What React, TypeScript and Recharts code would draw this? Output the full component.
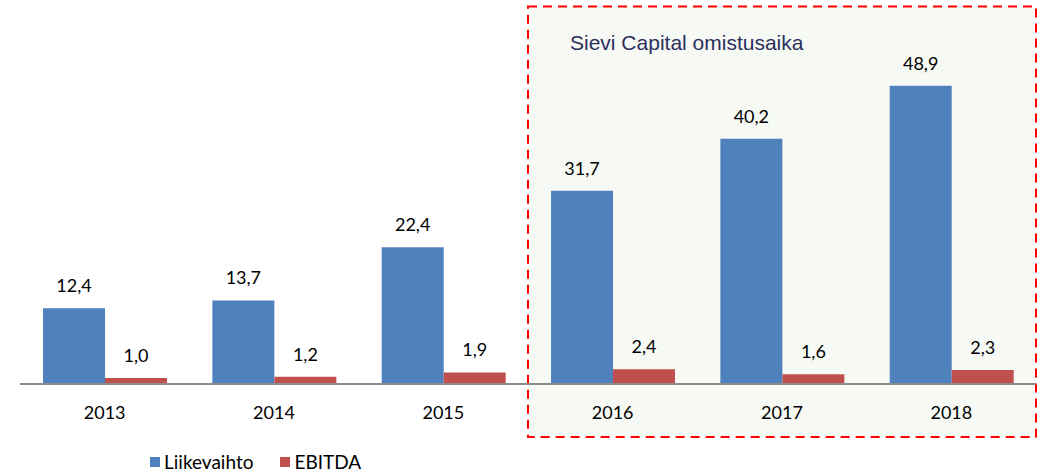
import React from 'react'
import { BarChart, Bar, XAxis, YAxis, Legend, LabelList, ReferenceArea, Label } from 'recharts'

const years = ['2013', '2014', '2015', '2016', '2017', '2018']
const liikevaihto = [12.4, 13.7, 22.4, 31.7, 40.2, 48.9]
const ebitda = [1.0, 1.2, 1.9, 2.4, 1.6, 2.3]

const data = years.map((year, i) => ({ year, liikevaihto: liikevaihto[i], ebitda: ebitda[i] }))

const BLUE = '#4f81bd'
const RED = '#c0504d'
const FONT = 'Lato, "Open Sans", sans-serif'

const fmt = (v: any) => Number(v).toFixed(1).replace('.', ',')

function LegendBox() {
  const items = [
    { name: 'Liikevaihto', color: BLUE },
    { name: 'EBITDA', color: RED }
  ]
  return (
    <div style={{ display: 'flex', alignItems: 'center', fontFamily: FONT, fontSize: 19, color: '#000' }}>
      {items.map((it) => (
        <div key={it.name} style={{ display: 'flex', alignItems: 'center', marginRight: 27 }}>
          <span style={{ width: 10, height: 10, background: it.color, display: 'inline-block', marginRight: 4 }} />
          <span>{it.name}</span>
        </div>
      ))}
    </div>
  )
}

export default function App() {
  return (
    <div style={{ position: 'absolute', left: 0, top: 0, width: 1045, height: 472, background: '#fff' }}>
      <BarChart
        width={1045}
        height={472}
        data={data}
        barGap={0}
        barCategoryGap="13.6%"
        margin={{ top: 79, right: 9, left: 20, bottom: 0 }}>
        <ReferenceArea
          x1="2016"
          x2="2018"
          y1={-8.7}
          y2={61.9}
          ifOverflow="visible"
          fill="#f7f9f4"
          fillOpacity={1}
          stroke="#ff0000"
          strokeWidth={2}
          strokeDasharray="9 6">
          <Label
            content={(props: any) => {
              const vb = props.viewBox || {}
              return (
                <text
                  x={(vb.x || 0) + 42}
                  y={(vb.y || 0) + 44}
                  fill="#2b2f5c"
                  fontSize={21}
                  fontFamily='"Liberation Sans", Arial, sans-serif'>
                  Sievi Capital omistusaika
                </text>
              )
            }}
          />
        </ReferenceArea>
        <XAxis
          dataKey="year"
          axisLine={{ stroke: '#8c8c8c', strokeWidth: 2 }}
          tickLine={false}
          height={66}
          tickMargin={16}
          tick={{ fill: '#000', fontSize: 18, fontFamily: FONT }}
        />
        <YAxis hide domain={[0, 50]} />
        <Legend
          verticalAlign="bottom"
          align="left"
          height={22}
          content={() => <LegendBox />}
          wrapperStyle={{ left: 150, bottom: 0, width: 'auto' }}
        />
        <Bar dataKey="liikevaihto" name="Liikevaihto" fill={BLUE} isAnimationActive={false}>
          <LabelList
            dataKey="liikevaihto"
            position="top"
            offset={16}
            formatter={fmt}
            style={{ fill: '#000', fontSize: 18, fontFamily: FONT }}
          />
        </Bar>
        <Bar dataKey="ebitda" name="EBITDA" fill={RED} isAnimationActive={false}>
          <LabelList
            dataKey="ebitda"
            position="top"
            offset={16}
            formatter={fmt}
            style={{ fill: '#000', fontSize: 18, fontFamily: FONT }}
          />
        </Bar>
      </BarChart>
    </div>
  )
}
